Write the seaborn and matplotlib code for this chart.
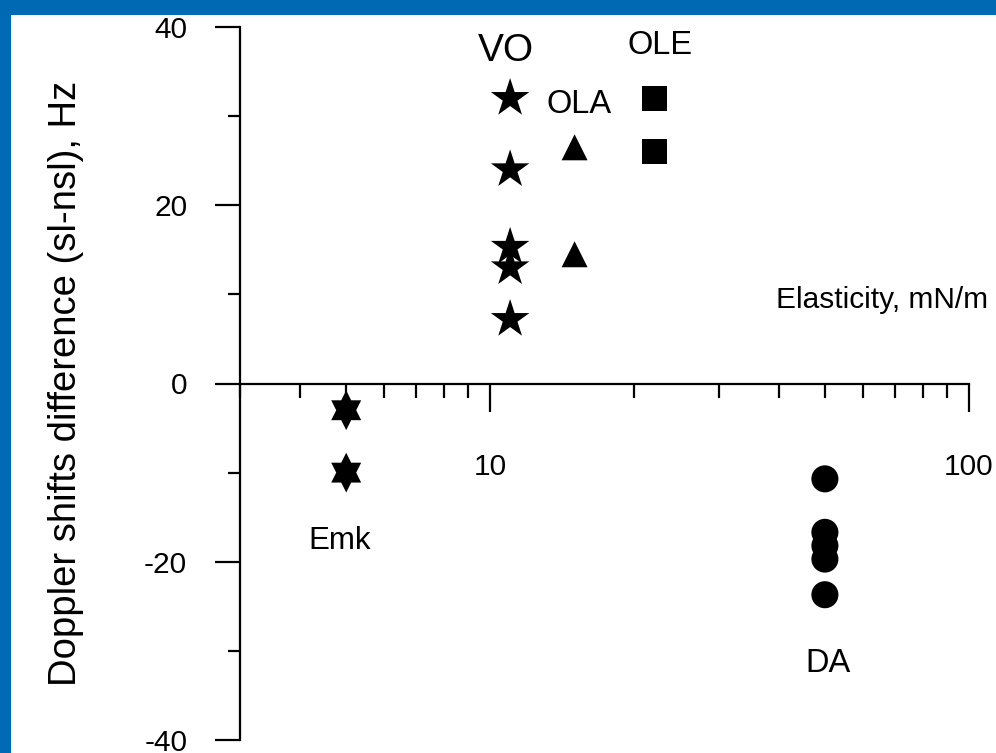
import numpy as np
import pandas as pd
import matplotlib
matplotlib.use("Agg")
import matplotlib.pyplot as plt
import seaborn as sns
from matplotlib.path import Path
from matplotlib.patches import Rectangle
from matplotlib.ticker import FixedLocator, NullFormatter, FixedFormatter

# ---- data ----
emk_x = [5, 5]
emk_y = [-3, -10]
vo_x = [11, 11, 11, 11, 11]
vo_y = [32, 24, 15.3, 13, 7.2]
ola_x = [15, 15]
ola_y = [26.5, 14.5]
ole_x = [22, 22]
ole_y = [32, 26]
da_x = [50, 50, 50, 50, 50]
da_y = [-10.7, -16.7, -18.2, -19.7, -23.7]

x_major = [10, 100]
x_major_labels = ["10", "100"]
x_minor = [3, 4, 5, 6, 7, 8, 9, 20, 30, 40, 50, 60, 70, 80, 90]
y_major = [-40, -20, 0, 20, 40]
y_minor = [-30, -10, 10, 30]

df = pd.DataFrame({
    "x": emk_x + vo_x + ola_x + ole_x + da_x,
    "y": emk_y + vo_y + ola_y + ole_y + da_y,
    "group": ["Emk"] * len(emk_x) + ["VO"] * len(vo_x) + ["OLA"] * len(ola_x)
             + ["OLE"] * len(ole_x) + ["DA"] * len(da_x),
})

# hexagram marker (star of David)
ang = np.deg2rad(np.arange(90, 450, 30))
rad = np.array([1.0, 1 / np.sqrt(3)] * 6)
verts = np.column_stack([0.87 * rad * np.cos(ang), rad * np.sin(ang)])
verts = np.vstack([verts, verts[:1]])
hexagram = Path(verts, [Path.MOVETO] + [Path.LINETO] * 11 + [Path.CLOSEPOLY])

sns.set_style("ticks")
plt.rcParams["font.family"] = ["Liberation Sans", "DejaVu Sans"]
plt.rcParams["axes.unicode_minus"] = False
plt.rcParams["text.color"] = "black"

fig = plt.figure(figsize=(9.96, 7.53), dpi=100)
fig.patch.set_facecolor("#0069B4")
fig.patches.append(Rectangle((11 / 996, 0), 1, 1 - 15 / 753, transform=fig.transFigure,
                             facecolor="white", edgecolor="none", zorder=-10))

ax = fig.add_axes([240 / 996, 1 - 740 / 753, (969 - 240) / 996, (740 - 27) / 753])
ax.set_facecolor("none")
ax.set_zorder(1)

sns.scatterplot(data=df, x="x", y="y", style="group", size="group",
                markers={"Emk": hexagram, "VO": "*", "OLA": "^", "OLE": "s", "DA": "o"},
                sizes={"Emk": 820, "VO": 850, "OLA": 350, "OLE": 330, "DA": 380},
                color="black", edgecolor="none", linewidth=0, legend=False, ax=ax,
                clip_on=False, zorder=5)

ax.set_xscale("log")
ax.set_xlim(3, 100)
ax.set_ylim(-40, 40)

for s in ["top", "right"]:
    ax.spines[s].set_visible(False)
ax.spines["bottom"].set_position(("data", 0))
for s in ["left", "bottom"]:
    ax.spines[s].set_linewidth(1.6)
    ax.spines[s].set_color("black")

ax.xaxis.set_major_locator(FixedLocator(x_major))
ax.xaxis.set_major_formatter(FixedFormatter(x_major_labels))
ax.xaxis.set_minor_locator(FixedLocator(x_minor))
ax.xaxis.set_minor_formatter(NullFormatter())
ax.yaxis.set_major_locator(FixedLocator(y_major))
ax.yaxis.set_minor_locator(FixedLocator(y_minor))

ax.tick_params(axis="x", which="major", direction="out", length=20, width=1.6,
               pad=30, labelsize=21.5, colors="black")
ax.tick_params(axis="x", which="minor", direction="out", length=10, width=1.6, colors="black")
ax.tick_params(axis="y", which="major", direction="out", length=18, width=1.6,
               pad=20, labelsize=21.5, colors="black")
ax.tick_params(axis="y", which="minor", direction="out", length=9, width=1.6, colors="black")

ax.set_ylabel("Doppler shifts difference (sl-nsl), Hz", fontsize=27.5, color="black")
ax.yaxis.label.set_va("center")
ax.yaxis.set_label_coords(-0.238, 0.5)

ax.set_xlabel("Elasticity, mN/m", fontsize=21.5, color="black")
ax.xaxis.label.set_va("center")
ax.xaxis.set_label_coords(0.881, 0.617)

ax.text(10.8, 37.3, "VO", fontsize=28, ha="center", va="center", color="black")
ax.text(15.3, 31.3, "OLA", fontsize=23.5, ha="center", va="center", color="black")
ax.text(22.6, 37.9, "OLE", fontsize=23.5, ha="center", va="center", color="black")
ax.text(4.84, -17.7, "Emk", fontsize=22.5, ha="center", va="center", color="black")
ax.text(50.8, -31.4, "DA", fontsize=23.5, ha="center", va="center", color="black")

fig.savefig("out.png", dpi=100, facecolor=fig.get_facecolor())
